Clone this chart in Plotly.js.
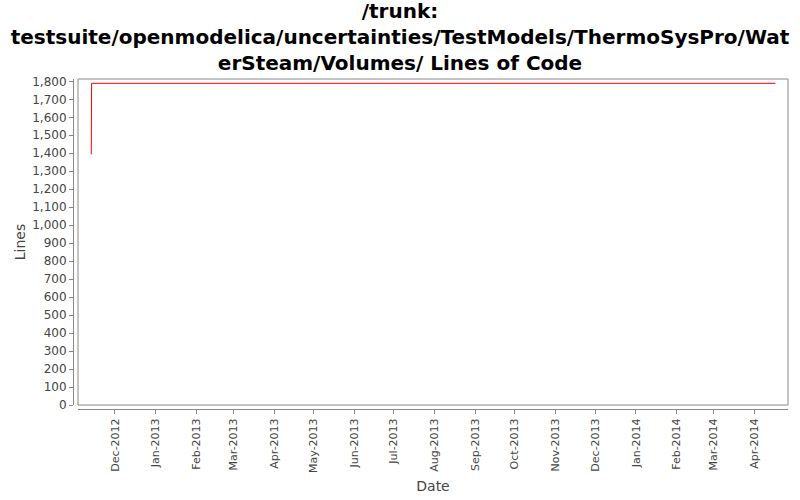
<!DOCTYPE html>
<html>
<head>
<meta charset="utf-8">
<script src="https://cdn.plot.ly/plotly-3.0.1.min.js"></script>
<style>html,body{margin:0;padding:0;background:#fff}#chart{width:800px;height:500px}</style>
</head>
<body>
<div id="chart"></div>
<script>
const dates = ["2012-11-13 00:00", "2012-11-13 06:00", "2014-04-17 00:00"];
const lines = [1394, 1789, 1789];
const titleText = "/trunk:<br>testsuite/openmodelica/uncertainties/TestModels/ThermoSysPro/Wat<br>erSteam/Volumes/ Lines of Code";
const xTitle = "Date";
const yTitle = "Lines";

const trace = {
  x: dates, y: lines, type: "scatter", mode: "lines",
  line: {color: "#ff0000", width: 1},
  hoverinfo: "skip"
};

const gray = "#888888";
const layout = {
  width: 800, height: 500,
  paper_bgcolor: "#ffffff", plot_bgcolor: "#ffffff",
  margin: {l: 73, r: 12, t: 79, b: 91, pad: 0},
  showlegend: false,
  title: {
    text: titleText,
    font: {family: "DejaVu Sans", size: 20, color: "#000000", weight: "bold"},
    x: 0.5, xanchor: "center", xref: "container",
    y: 0.964, yanchor: "middle", yref: "container"
  },
  xaxis: {
    type: "date",
    domain: [5/715, 1],
    anchor: "free", position: 0,
    range: ["2012-11-02 22:00", "2014-04-26 14:00"],
    tick0: "2012-12-01", dtick: "M1",
    tickformat: "%b-%Y", tickangle: -90,
    ticks: "outside", ticklen: 4, tickcolor: gray,
    showline: true, linecolor: gray, linewidth: 1,
    showgrid: false, zeroline: false,
    tickfont: {family: "DejaVu Sans", size: 11, color: "#444444"},
    title: {text: xTitle, font: {family: "DejaVu Sans", size: 14, color: "#444444"}, standoff: 9},
    automargin: false
  },
  yaxis: {
    domain: [4/330, 1],
    anchor: "free", position: 0,
    range: [0, 1813],
    tick0: 0, dtick: 100,
    tickformat: ",d",
    ticks: "outside", ticklen: 4, tickcolor: gray,
    showline: true, linecolor: gray, linewidth: 1,
    showgrid: false, zeroline: false,
    tickfont: {family: "DejaVu Sans", size: 12, color: "#444444"},
    title: {text: yTitle, font: {family: "DejaVu Sans", size: 14, color: "#444444"}, standoff: 2},
    automargin: false
  },
  shapes: [{
    type: "rect", xref: "x domain", yref: "y domain",
    x0: 0, x1: 1, y0: 0, y1: 1,
    line: {color: gray, width: 1}, fillcolor: "rgba(0,0,0,0)", layer: "above"
  }]
};

Plotly.newPlot("chart", [trace], layout, {displayModeBar: false, staticPlot: true});
</script>
</body>
</html>
